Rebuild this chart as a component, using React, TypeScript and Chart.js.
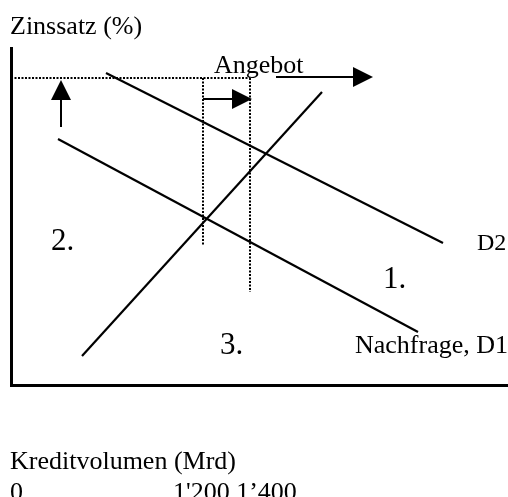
import React, { useEffect, useRef } from "react";
import { Chart, registerables } from "chart.js";

Chart.register(...registerables);

// Diagram units: x = credit volume (arbitrary), y = interest rate (arbitrary)
const xMax = 497;
const yMax = 337;

const supplyPts = [
  { x: 71, y: 29 },
  { x: 311, y: 293 },
];
const demandD1Pts = [
  { x: 47, y: 246 },
  { x: 407, y: 53 },
];
const demandD2Pts = [
  { x: 95, y: 312 },
  { x: 432, y: 142 },
];
const dottedRatePts = [
  { x: 0, y: 307 },
  { x: 239, y: 307 },
];
const dottedVol1Pts = [
  { x: 192, y: 307 },
  { x: 192, y: 139 },
];
const dottedVol2Pts = [
  { x: 239, y: 307 },
  { x: 239, y: 93 },
];

// arrows: from -> to (tip)
const arrowList = [
  { from: { x: 50, y: 258 }, to: { x: 50, y: 305 } },
  { from: { x: 192, y: 286 }, to: { x: 241, y: 286 } },
  { from: { x: 265, y: 308 }, to: { x: 362, y: 308 } },
];

// labels inside the diagram (left, baseline)
const labelTexts = ["Angebot", "2.", "1.", "3.", "Nachfrage, D1", "D2"];
const labelX = [203, 40, 372, 209, 344, 466];
const labelY = [312, 135, 97, 31, 32, 135];
const labelSize = [26, 31, 31, 31, 26, 24];

const yAxisTitle = "Zinssatz (%)";
const xAxisTitle = "Kreditvolumen (Mrd)";
const xTickLabels = ["0", "1'200", "1’400"];

const FONT = "'Liberation Serif', 'Times New Roman', serif";

const annotationPlugin = {
  id: "annotations",
  afterDatasetsDraw(chart: any) {
    const { ctx } = chart;
    const xs = chart.scales.x;
    const ys = chart.scales.y;
    ctx.save();
    ctx.fillStyle = "#000";
    ctx.strokeStyle = "#000";
    // arrows
    arrowList.forEach((a) => {
      const x1 = xs.getPixelForValue(a.from.x);
      const y1 = ys.getPixelForValue(a.from.y);
      const x2 = xs.getPixelForValue(a.to.x);
      const y2 = ys.getPixelForValue(a.to.y);
      const ang = Math.atan2(y2 - y1, x2 - x1);
      const headLen = 20;
      const headHalf = 10;
      const bx = x2 - headLen * Math.cos(ang);
      const by = y2 - headLen * Math.sin(ang);
      ctx.lineWidth = 2;
      ctx.beginPath();
      ctx.moveTo(x1, y1);
      ctx.lineTo(bx, by);
      ctx.stroke();
      ctx.beginPath();
      ctx.moveTo(x2, y2);
      ctx.lineTo(bx + headHalf * Math.sin(ang), by - headHalf * Math.cos(ang));
      ctx.lineTo(bx - headHalf * Math.sin(ang), by + headHalf * Math.cos(ang));
      ctx.closePath();
      ctx.fill();
    });
    // labels
    ctx.textBaseline = "alphabetic";
    ctx.textAlign = "left";
    labelTexts.forEach((t, i) => {
      ctx.font = `${labelSize[i]}px ${FONT}`;
      ctx.fillText(t, xs.getPixelForValue(labelX[i]), ys.getPixelForValue(labelY[i]));
    });
    // axis titles and tick texts (outside plot)
    ctx.font = `26px ${FONT}`;
    ctx.fillText(yAxisTitle, 10, 34);
    ctx.fillText(xAxisTitle, 10, 469);
    ctx.fillText(xTickLabels[0], 10, 500);
    ctx.fillText(xTickLabels.slice(1).join(" "), 173, 500);
    ctx.restore();
  },
};

export default function App() {
  const ref = useRef<HTMLCanvasElement | null>(null);
  useEffect(() => {
    if (!ref.current) return;
    const solid = (data: any[]) => ({
      data,
      showLine: true,
      borderColor: "#000",
      borderWidth: 2.2,
      pointRadius: 0,
      fill: false,
    });
    const dotted = (data: any[]) => ({
      ...solid(data),
      borderWidth: 2,
      borderDash: [2, 1.5],
    });
    const chart = new Chart(ref.current, {
      type: "scatter",
      data: {
        datasets: [
          solid(supplyPts),
          solid(demandD1Pts),
          solid(demandD2Pts),
          dotted(dottedRatePts),
          dotted(dottedVol1Pts),
          dotted(dottedVol2Pts),
        ],
      },
      options: {
        animation: false,
        responsive: true,
        maintainAspectRatio: false,
        layout: { padding: { left: 3, top: 48, right: 0, bottom: 104 } },
        plugins: { legend: { display: false }, tooltip: { enabled: false } },
        scales: {
          x: {
            type: "linear",
            min: 0,
            max: xMax,
            ticks: { display: false },
            grid: { display: false },
            border: { display: true, width: 3, color: "#000" },
          },
          y: {
            type: "linear",
            min: 0,
            max: yMax,
            ticks: { display: false },
            grid: { display: false },
            border: { display: true, width: 3, color: "#000" },
          },
        },
      },
      plugins: [annotationPlugin],
    } as any);
    return () => chart.destroy();
  }, []);
  return (
    <div style={{ position: "absolute", left: 0, top: 0, width: 508, height: 497, background: "#fff" }}>
      <canvas ref={ref} />
    </div>
  );
}
